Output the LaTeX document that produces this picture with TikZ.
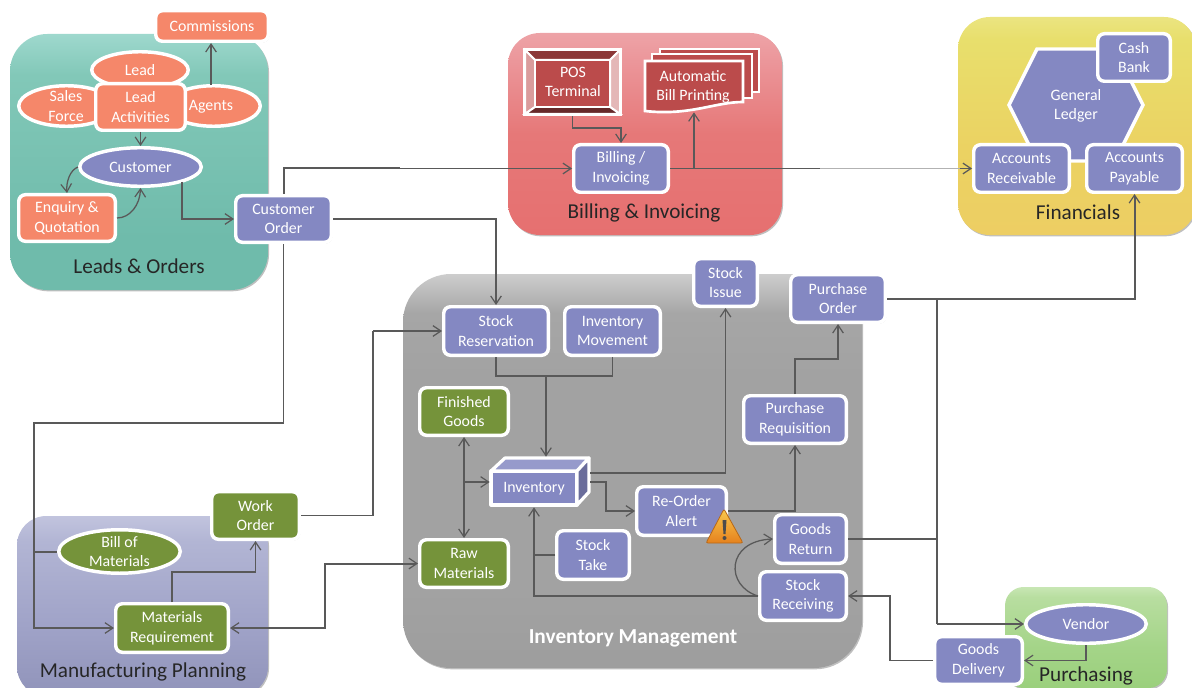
\documentclass[tikz,border=0pt]{standalone}
\usepackage{fontspec}
\setmainfont{Carlito}
\usetikzlibrary{shapes.geometric,arrows.meta,shadows,calc}
\definecolor{bluebox}{HTML}{8488C2}
\definecolor{orangebox}{HTML}{F5876A}
\definecolor{greenbox}{HTML}{75933A}
\definecolor{redbox}{HTML}{BB4B4B}
\definecolor{linec}{HTML}{595959}
\definecolor{warnA}{HTML}{F9C84E}\definecolor{warnB}{HTML}{E5821E}
\definecolor{lA}{HTML}{6FBBAB}\definecolor{lB}{HTML}{82C8B8}\definecolor{lC}{HTML}{A2DAD0}\definecolor{lD}{HTML}{B8E4DC}
\definecolor{bA}{HTML}{E56868}\definecolor{bB}{HTML}{E67878}\definecolor{bC}{HTML}{EB9498}\definecolor{bD}{HTML}{EFACB0}
\definecolor{fA}{HTML}{EFC964}\definecolor{fB}{HTML}{EBD262}\definecolor{fC}{HTML}{E8DF6C}\definecolor{fD}{HTML}{EEEA96}
\definecolor{iA}{HTML}{929292}\definecolor{iB}{HTML}{A2A2A2}\definecolor{iC}{HTML}{A6A6A6}\definecolor{iD}{HTML}{E4E4E4}
\definecolor{mA}{HTML}{7D80A8}\definecolor{mB}{HTML}{A0A3C8}\definecolor{mC}{HTML}{B2B5D4}\definecolor{mD}{HTML}{C8CAE2}
\definecolor{pA}{HTML}{8FCB6E}\definecolor{pB}{HTML}{A4D488}\definecolor{pC}{HTML}{B8DEA0}\definecolor{pD}{HTML}{D8EFC8}
\pgfdeclareverticalshading{leadsS}{100bp}{color(0bp)=(lA);color(35bp)=(lA);color(67bp)=(lB);color(76bp)=(lC);color(82bp)=(lD);color(100bp)=(lD)}
\pgfdeclareverticalshading{billS}{100bp}{color(0bp)=(bA);color(50bp)=(bB);color(67bp)=(bC);color(80bp)=(bD);color(100bp)=(bD)}
\pgfdeclareverticalshading{finS}{100bp}{color(0bp)=(fA);color(45bp)=(fB);color(70bp)=(fC);color(80bp)=(fD);color(100bp)=(fD)}
\pgfdeclareverticalshading{invS}{100bp}{color(0bp)=(iA);color(35bp)=(iB);color(62bp)=(iB);color(70bp)=(iC);color(78bp)=(iD);color(100bp)=(iD)}
\pgfdeclareverticalshading{mfgS}{100bp}{color(0bp)=(mA);color(45bp)=(mB);color(68bp)=(mC);color(78bp)=(mD);color(100bp)=(mD)}
\pgfdeclareverticalshading{purS}{100bp}{color(0bp)=(pA);color(45bp)=(pB);color(70bp)=(pC);color(80bp)=(pD);color(100bp)=(pD)}
\tikzset{
  px/.style={x=0.75pt,y=-0.75pt},
  base/.style={inner sep=0pt,align=center,text=white,font=\fontsize{11.9}{14.7}\selectfont},
  boxsh/.style={base,rectangle,rounded corners=5pt,draw=white,line width=2.6pt,
     drop shadow={shadow xshift=0.7pt,shadow yshift=-0.9pt,opacity=.3,fill=black}},
  bluerect/.style={boxsh,fill=bluebox},
  orangerect/.style={boxsh,fill=orangebox},
  greenrect/.style={boxsh,fill=greenbox},
  ellsh/.style={base,ellipse,draw=white,line width=2.6pt,
     drop shadow={shadow xshift=0.7pt,shadow yshift=-0.9pt,opacity=.3,fill=black}},
  blueell/.style={ellsh,fill=bluebox},
  orangeell/.style={ellsh,fill=orangebox},
  greenell/.style={ellsh,fill=greenbox},
  region/.style={rectangle,inner sep=0pt,rounded corners=28pt,
     drop shadow={shadow xshift=0.8pt,shadow yshift=-1pt,opacity=.25,fill=black}},
  regtitle/.style={inner sep=0pt,text=black!85,font=\fontsize{15.9}{18}\selectfont},
  conn/.style={draw=linec,line width=0.95pt,-{Straight Barb[length=6pt,width=8pt,line width=0.9pt]}},
  conntwo/.style={draw=linec,line width=0.95pt,{Straight Barb[length=6pt,width=8pt,line width=0.9pt]}-{Straight Barb[length=6pt,width=8pt,line width=0.9pt]}},
  wire/.style={draw=linec,line width=0.95pt},
  heavy/.style={line width=1.5pt},
  ghost/.style={inner sep=0pt,rectangle,base},
  sheet/.style={draw=white,line width=2pt,fill=redbox,line join=miter},
  bevel/.style={draw=white,line width=1.5pt,line join=miter},
  cubeface/.style={draw=white,line width=2.4pt,line join=round},
}
% style, name, x1, y1, x2, y2, text : outer box in pixels
\newcommand{\pxnode}[7]{%
  \pgfmathsetmacro{\pxcx}{(#3+#5)/2}%
  \pgfmathsetmacro{\pxcy}{(#4+#6)/2}%
  \pgfmathsetmacro{\pxw}{(#5-#3)*0.75}%
  \pgfmathsetmacro{\pxh}{(#6-#4)*0.75}%
  \node[#1,minimum width=\pxw pt,minimum height=\pxh pt] (#2) at (\pxcx,\pxcy) {#7};}
\newcommand{\bxnode}[7]{%
  \pgfmathsetmacro{\pxcx}{(#3+#5)/2}%
  \pgfmathsetmacro{\pxcy}{(#4+#6)/2}%
  \pgfmathsetmacro{\pxw}{(#5-#3)*0.75-2.6}%
  \pgfmathsetmacro{\pxh}{(#6-#4)*0.75-2.6}%
  \node[#1,minimum width=\pxw pt,minimum height=\pxh pt] (#2) at (\pxcx,\pxcy) {#7};}
\begin{document}
\begin{tikzpicture}[px]
\useasboundingbox (0,0) rectangle (1192,688);
\clip (0,0) rectangle (1192,688);
% regions
\pxnode{region,shading=leadsS}{rleads}{10}{34}{268}{290}{}
\pxnode{region,shading=billS,rounded corners=24pt}{rbill}{508}{33}{782}{235}{}
\pxnode{region,shading=finS,rounded corners=24pt}{rfin}{958}{17}{1196}{235}{}
\pxnode{region,shading=invS,rounded corners=36pt}{rinv}{403}{274}{862}{668}{}
\pxnode{region,shading=mfgS,rounded corners=22pt}{rmfg}{17}{516}{268}{696}{}
\pxnode{region,shading=purS,rounded corners=14pt}{rpur}{1005}{587}{1167}{688}{}
\node[regtitle] (tleads) at (139,266) {Leads \& Orders};
\node[regtitle] (tbill) at (644,213) {Billing \& Invoicing};
\node[regtitle] (tfin) at (1078,212) {Financials};
\node[regtitle,text=white,font=\fontsize{16}{18}\selectfont\bfseries] (tinv) at (633,638) {Inventory Management};
\node[regtitle] (tmfg) at (143,672) {Manufacturing Planning};
\node[regtitle] (tpur) at (1086,676) {Purchasing};
% invisible anchors for hand drawn shapes
\pxnode{ghost}{pos}{523}{48}{622}{116}{}
\pxnode{ghost}{doc}{644}{60}{744}{112}{}
\pxnode{ghost}{inv}{490}{457}{590}{507}{}
% leads shapes (behind boxes)
\bxnode{orangeell}{lead}{90}{50}{190}{90}{}
\bxnode{orangeell}{sales}{17}{84}{116}{128}{}
\bxnode{orangeell}{agents}{165}{84}{262}{128}{}
\bxnode{blueell}{customer}{78}{146}{203}{188}{Customer}
\bxnode{blueell}{vendor}{1024}{603}{1148}{645}{Vendor}
\bxnode{greenell}{bom}{57}{530}{182}{573}{Bill of\\Materials}
\node[base] at (140,70) {Lead};
\node[base] at (66,106) {Sales\\Force};
\node[base] at (211,107) {Agents};
% hexagon
\path[draw=white,line width=2.6pt,fill=bluebox,line join=miter] (1009,105) -- (1037,49) -- (1115,49) -- (1143,105) -- (1115,161) -- (1037,161) -- cycle;
\node[base] (ledger) at (1076,106) {General\\Ledger};
% boxes
\bxnode{orangerect}{comm}{154}{9}{270}{43}{Commissions}
\bxnode{orangerect}{act}{94}{82}{187}{132}{Lead\\Activities}
\bxnode{orangerect}{enq}{17}{193}{117}{243}{Enquiry \&\\Quotation}
\bxnode{bluerect}{order}{234}{194}{333}{244}{Customer\\Order}
\bxnode{bluerect}{bill}{572}{143}{670}{194}{Billing /\\Invoicing}
\bxnode{bluerect}{cash}{1096}{32}{1172}{83}{Cash\\Bank}
\bxnode{bluerect}{ar}{972}{143}{1071}{194}{Accounts\\Receivable}
\bxnode{bluerect}{ap}{1085}{143}{1184}{194}{Accounts\\Payable}
\bxnode{bluerect}{res}{442}{305}{550}{357}{Stock\\Reservation}
\bxnode{bluerect}{mov}{563}{305}{662}{357}{Inventory\\Movement}
\bxnode{bluerect}{issue}{692}{257}{759}{308}{Stock\\Issue}
\bxnode{bluerect}{po}{789}{273}{887}{324}{Purchase\\Order}
\bxnode{greenrect}{fin}{418}{386}{510}{437}{Finished\\Goods}
\bxnode{greenrect}{raw}{418}{538}{510}{589}{Raw\\Materials}
\bxnode{bluerect}{take}{555}{529}{631}{581}{Stock\\Take}
\bxnode{bluerect}{alert}{635}{485}{728}{537}{Re-Order\\Alert}
\bxnode{bluerect}{req}{742}{394}{848}{445}{Purchase\\Requisition}
\bxnode{bluerect}{ret}{773}{513}{848}{565}{Goods\\Return}
\bxnode{bluerect}{rec}{758}{570}{848}{622}{Stock\\Receiving}
\bxnode{bluerect}{del}{933}{635}{1024}{686}{Goods\\Delivery}
\bxnode{greenrect}{work}{210}{490}{301}{541}{Work\\Order}
\bxnode{greenrect}{mat}{114}{602}{230}{654}{Materials\\Requirement}
% POS terminal
\path[fill=white] (pos.north west) rectangle (pos.south east);
\path[bevel,fill=redbox!75!black] (525,50) -- (620,50) -- (610,60) -- (535,60) -- cycle;
\path[bevel,fill=redbox!55!white] (525,50) -- (535,60) -- (535,107) -- (525,114) -- cycle;
\path[bevel,fill=redbox!40!white] (620,50) -- (610,60) -- (610,107) -- (620,114) -- cycle;
\path[bevel,fill=redbox!55!black] (525,114) -- (535,107) -- (610,107) -- (620,114) -- cycle;
\path[bevel,fill=redbox] (535,60) rectangle (610,107);
\node[base] at (573,82) {POS\\Terminal};
% document stack
\path[sheet] (660,49) -- (759,49) -- (759,92) -- (660,92) -- cycle;
\path[sheet] (652,54) -- (752,54) -- (752,98) -- (652,98) -- cycle;
\path[sheet] (645,61) -- (743,61) -- (743,102) .. controls (715,102) and (690,116) .. (645,111) -- cycle;
\node[base] at (693,87) {Automatic\\Bill Printing};
% inventory cube
\path[cubeface,fill=bluebox] (491,471) rectangle (577,505);
\path[cubeface,fill=bluebox!85!white] (491,471) -- (505,458) -- (589,458) -- (577,471) -- cycle;
\path[cubeface,fill=bluebox!80!black] (577,471) -- (589,458) -- (589,492) -- (577,505) -- cycle;
\node[base] at (534,489) {Inventory};
% warning icon
\path[draw=warnB!80!black,line width=0.6pt,rounded corners=1.5pt,top color=warnA,bottom color=warnB] (724,509) -- (743,543) -- (706,543) -- cycle;
\path[fill=black!70] (722.5,520) -- (726.5,520) -- (725.5,534) -- (723.5,534) -- cycle;
\path[fill=black!70] (724.5,538) circle (2);
% junction coordinates
\coordinate (jag) at (211,85);
\coordinate (jpos) at (pos.south |- 0,128);
\coordinate (jorder) at (order.south |- 0,423);
\coordinate (jleft) at (34,423);
\coordinate (jbom) at (34,0 |- bom.west);
\coordinate (jmat) at (34,0 |- mat.west);
\coordinate (jstock) at (546,376);
\coordinate (jgray) at (820,0 |- bill.east);
\coordinate (jgray2) at (960,0 |- bill.east);
\coordinate (jorder2) at (order.north |- bill.west);
\coordinate (jorder3) at (400,0 |- bill.west);
\coordinate (jrec) at (534,0 |- rec.west);
\coordinate (jfin) at (fin.south |- inv.west);
\coordinate (jpo) at (937,0 |- po.east);
\coordinate (jret) at (937,0 |- ret.east);
\coordinate (jven) at (937,0 |- vendor.west);
\coordinate (jwork) at (373,0 |- work.east);
\coordinate (jwork2) at (373,0 |- res.west);
\coordinate (jmreq) at (mat.north |- 0,572);
\coordinate (jraw) at (325,0 |- mat.east);
\coordinate (jraw2) at (325,0 |- raw.west);
\coordinate (jdel) at (890,0 |- del.west);
\coordinate (jdel2) at (890,0 |- rec.east);
\coordinate (jinv0) at (590,473);
\coordinate (jinv1) at (606,0 |- inv.east);
\coordinate (jinv2) at (606,0 |- alert.west);
\coordinate (jpr) at (req.north |- 0,359);
\coordinate (jcust) at (182,182);
\coordinate (jbr) at (doc.south |- bill.east);
% connectors
\draw[conn] (act.south) -- (customer.north);
\draw[conn] (jag) -- (jag |- comm.south);
\draw[conn] (customer.west) .. controls (70,170) and (66,182) .. (enq.north);
\draw[conn] (enq.east) .. controls (130,218) and (140,205) .. (customer.south);
\draw[conn] (jcust) |- (order.west);
\draw[wire,heavy] (order.north) -- (jorder2) -- (jorder3);
\draw[conn] (jorder3) -- (bill.west);
\draw[conn] (order.east) -| (res.north);
\draw[wire] (order.south) -- (jorder);
\draw[wire,heavy] (jorder) -- (jleft) -- (jbom);
\draw[wire,heavy] (jbom) -- (bom.west);
\draw[conn] (jbom) -- (jmat) -- (mat.west);
\draw[conn] (pos.south) -- (jpos) -| (bill.north);
\draw[wire] (bill.east) -- (jgray);
\draw[draw=black!30,line width=1.4pt] (jgray) -- (jgray2);
\draw[conn] (jgray2) -- (ar.west);
\draw[conn] (jbr) -- (doc.south);
\draw[wire] (res.south) |- (jstock) -| (mov.south);
\draw[conn] (jstock) -- (inv.north -| jstock);
\draw[conn] (jinv0) -| (issue.south);
\draw[conn] (inv.east) -- (jinv1) -- (jinv2) -- (alert.west);
\draw[conntwo] (fin.south) -- (fin.south |- raw.north);
\draw[conn] (jfin) -- (inv.west);
\draw[wire] (take.west) -- (take.west -| jrec);
\draw[conn] (rec.west) -- (jrec) -- (jrec |- inv.south);
\draw[conn] (rec.west) .. controls (725,586) and (726,541) .. (ret.west);
\draw[conn] (alert.east) -| (req.south);
\draw[conn] (req.north) -- (jpr) -| (po.south);
\draw[wire,heavy] (po.east) -- (jpo);
\draw[conn,heavy] (jpo) -| (ap.south);
\draw[wire,heavy] (jpo) -- (jven);
\draw[wire,heavy] (ret.east) -- (jret);
\draw[conn,heavy] (jven) -- (vendor.west);
\draw[conn] (vendor.south) |- (del.east);
\draw[conn] (del.west) -- (jdel) -- (jdel2) -- (rec.east);
\draw[wire] (work.east) -- (jwork) -- (jwork2);
\draw[conn] (jwork2) -- (res.west);
\draw[conn] (mat.north) -- (jmreq) -| (work.south);
\draw[conntwo,heavy] (mat.east) -- (jraw) -- (jraw2) -- (raw.west);
\end{tikzpicture}
\end{document}
